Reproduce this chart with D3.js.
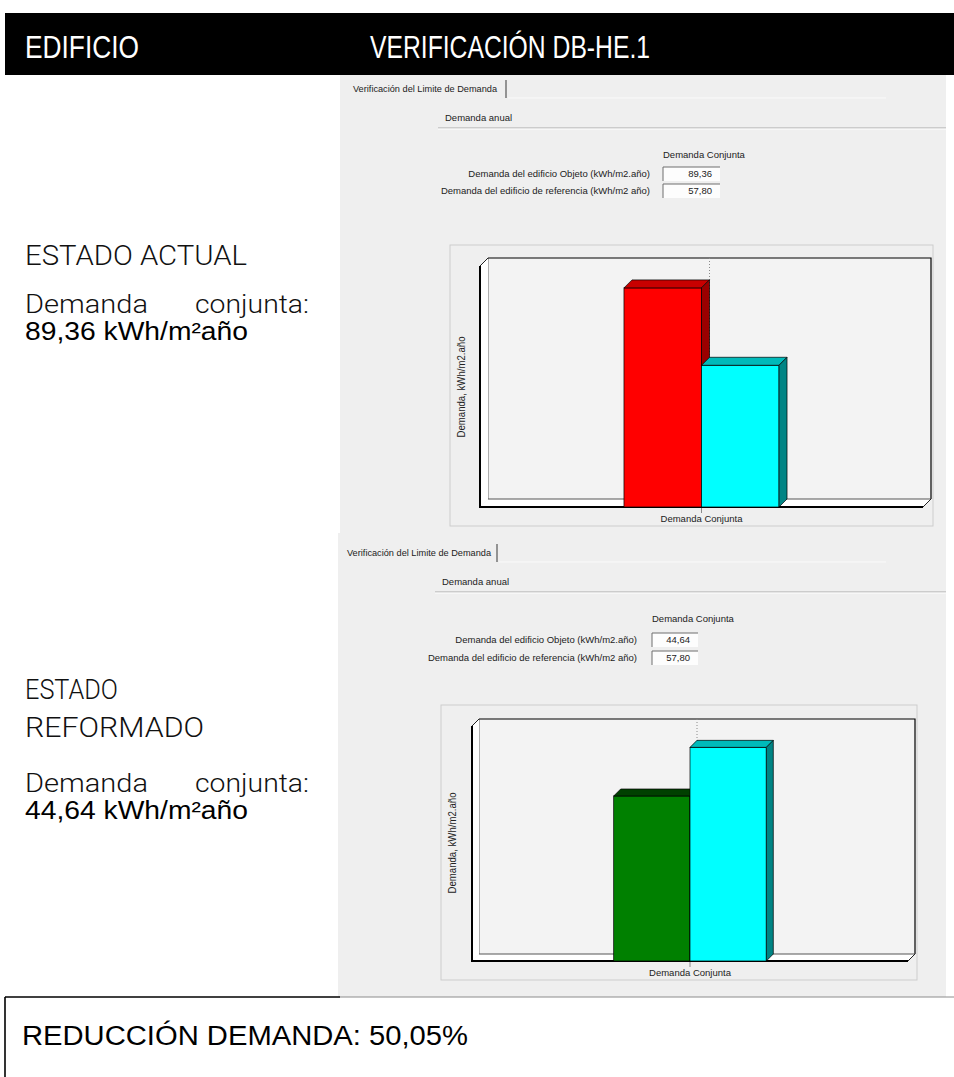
<!DOCTYPE html>
<html lang="es">
<head>
<meta charset="utf-8">
<title>Verificación DB-HE.1</title>
<script src="https://cdn.jsdelivr.net/npm/d3@7/dist/d3.min.js"></script>
<style>
  html, body { margin: 0; padding: 0; background: #ffffff; }
  svg { display: block; }
</style>
</head>
<body>
<script>
// ---- Data ----------------------------------------------------------------
const categories = ["Demanda Conjunta"];
const seriesLabels = [
  "Demanda del edificio Objeto (kWh/m2.año)",
  "Demanda del edificio de referencia (kWh/m2 año)"
];
const actualValues = [89.36, 57.80];     // estado actual: objeto, referencia
const reformedValues = [44.64, 57.80];   // estado reformado: objeto, referencia
const reductionPct = [50.05];            // reducción de demanda declarada
const headerLabels = ["EDIFICIO", "VERIFICACIÓN DB-HE.1"];
const stateTitles = [["ESTADO ACTUAL"], ["ESTADO", "REFORMADO"]];
const tabLabel = "Verificación del Limite de Demanda";
const groupLabel = "Demanda anual";
const yAxisTitle = "Demanda, kWh/m2.año";

// ---- Helpers -------------------------------------------------------------
const fmt = v => d3.format(".2f")(v).replace(".", ",");
const W = 954, H = 1077;
const svg = d3.select("body").append("svg").attr("width", W).attr("height", H);

const SANS = "'Liberation Sans', Arial, Helvetica, sans-serif";
const LIGHT = "Roboto, 'Liberation Sans', Arial, sans-serif";
const UI = "'Liberation Sans', Tahoma, Arial, sans-serif";

function fitText(sel, len) {
  return sel.attr("textLength", len).attr("lengthAdjust", "spacingAndGlyphs");
}

// ---- Header bar ----------------------------------------------------------
svg.append("rect").attr("x", 5).attr("y", 13).attr("width", W - 5).attr("height", 62).attr("fill", "#000");
fitText(svg.append("text").attr("x", 25).attr("y", 58).text(headerLabels[0])
  .attr("font-family", SANS).attr("font-size", 32).attr("fill", "#fff"), 114);
fitText(svg.append("text").attr("x", 370).attr("y", 58).text(headerLabels[1])
  .attr("font-family", SANS).attr("font-size", 32).attr("fill", "#fff"), 280);

// ---- Left column: state descriptions ------------------------------------
function stateBlock(lines, titleBaselines, titleWidths, demBaseline, valBaseline, value) {
  const g = svg.append("g");
  lines.forEach((t, i) => {
    fitText(g.append("text").attr("x", 25).attr("y", titleBaselines[i]).text(t)
      .attr("font-family", LIGHT).attr("font-weight", 300).attr("font-size", 27).attr("fill", "#111"), titleWidths[i]);
  });
  fitText(g.append("text").attr("x", 25).attr("y", demBaseline).text("Demanda")
    .attr("font-family", LIGHT).attr("font-weight", 300).attr("font-size", 26).attr("fill", "#111"), 123);
  fitText(g.append("text").attr("x", 195).attr("y", demBaseline).text("conjunta:")
    .attr("font-family", LIGHT).attr("font-weight", 300).attr("font-size", 26).attr("fill", "#111"), 114);
  fitText(g.append("text").attr("x", 25).attr("y", valBaseline)
    .attr("font-family", SANS).attr("font-size", 25).attr("fill", "#000")
    .text(fmt(value) + " kWh/m²año"), 223);
}
stateBlock(stateTitles[0], [265], [222], 313, 340, actualValues[0]);
stateBlock(stateTitles[1], [699, 737], [93, 179], 792, 819, reformedValues[0]);

// ---- Software panels with 3D bar chart ----------------------------------
function drawPanel(cfg, values, colors) {
  const g = svg.append("g");
  const L = cfg;

  // dialog background
  g.append("rect").attr("x", L.px).attr("y", L.py).attr("width", L.pw).attr("height", L.ph).attr("fill", "#efefef");

  // tab
  fitText(g.append("text").attr("x", L.tabX).attr("y", L.tabY).text(tabLabel)
    .attr("font-family", UI).attr("font-size", 9.5).attr("fill", "#222"), 144);
  g.append("line").attr("x1", L.tabSep).attr("x2", L.tabSep).attr("y1", L.tabY - 12).attr("y2", L.tabY + 6)
    .attr("stroke", "#555").attr("stroke-width", 1.2);
  g.append("line").attr("x1", L.tabSep + 2).attr("x2", L.px + L.pw - 60).attr("y1", L.tabY + 6).attr("y2", L.tabY + 6)
    .attr("stroke", "#fafafa").attr("stroke-width", 1);

  // group box title
  g.append("text").attr("x", L.grpX).attr("y", L.grpY).text(groupLabel)
    .attr("font-family", UI).attr("font-size", 9.5).attr("fill", "#222");
  g.append("line").attr("x1", L.grpX - 7).attr("x2", L.px + L.pw).attr("y1", L.grpY + 7).attr("y2", L.grpY + 7)
    .attr("stroke", "#a9a9a9").attr("stroke-width", 1);
  g.append("line").attr("x1", L.grpX - 7).attr("x2", L.px + L.pw).attr("y1", L.grpY + 8).attr("y2", L.grpY + 8)
    .attr("stroke", "#ffffff").attr("stroke-width", 1);

  // value table
  g.append("text").attr("x", L.boxX).attr("y", L.colHeadY).text(categories[0])
    .attr("font-family", UI).attr("font-size", 9.5).attr("fill", "#222");
  seriesLabels.forEach((s, i) => {
    const by = L.boxY[i];
    g.append("text").attr("x", L.lblRight).attr("y", by + 10).attr("text-anchor", "end").text(s)
      .attr("font-family", UI).attr("font-size", 9.5).attr("fill", "#222");
    g.append("rect").attr("x", L.boxX).attr("y", by).attr("width", L.boxW).attr("height", 14).attr("fill", "#fdfdfd");
    g.append("path").attr("d", `M${L.boxX},${by + 14}V${by}H${L.boxX + L.boxW}`)
      .attr("fill", "none").attr("stroke", "#6e6e6e").attr("stroke-width", 1);
    g.append("text").attr("x", L.boxX + L.boxW - 8).attr("y", by + 10).attr("text-anchor", "end")
      .text(fmt(values[i])).attr("font-family", UI).attr("font-size", 9.5).attr("fill", "#222");
  });

  // chart control border
  g.append("rect").attr("x", L.cx0).attr("y", L.cy0).attr("width", L.cx1 - L.cx0).attr("height", L.cy1 - L.cy0)
    .attr("fill", "none").attr("stroke", "#cdcdcd").attr("stroke-width", 1);

  // scales
  const d = L.depth;
  const ymax = d3.max(values) * 1.1;
  const y = d3.scaleLinear().domain([0, ymax]).range([L.bottom, L.top]);
  const x0 = d3.scaleBand().domain(categories).range([L.left, L.right]).paddingInner(0.65).paddingOuter(0.325);
  const x1 = d3.scaleBand().domain(seriesLabels).range([0, x0.bandwidth()]);
  const yb = y(0), yt = y(ymax);

  // back wall
  g.append("rect").attr("x", L.left + d).attr("y", yt - d).attr("width", L.right - L.left).attr("height", yb - yt)
    .attr("fill", "#f3f3f3");
  g.append("path").attr("d", `M${L.left + d},${yb - d}V${yt - d}`).attr("stroke", "#6a6a6a").attr("stroke-width", 1).attr("fill", "none");
  g.append("path").attr("d", `M${L.left + d},${yt - d}H${L.right + d}V${yb - d}`).attr("stroke", "#000").attr("stroke-width", 1.2).attr("fill", "none");

  // left wall and floor
  g.append("path").attr("d", `M${L.left},${yt}L${L.left + d},${yt - d}V${yb - d}L${L.left},${yb}Z`).attr("fill", "#ffffff");
  g.append("path").attr("d", `M${L.left},${yb}L${L.left + d},${yb - d}H${L.right + d}L${L.right},${yb}Z`).attr("fill", "#ffffff");
  g.append("path").attr("d", `M${L.left + d},${yb - d}H${L.right + d}`).attr("stroke", "#555").attr("stroke-width", 1).attr("fill", "none");
  g.append("path").attr("d", `M${L.left},${yt}L${L.left + d},${yt - d}M${L.right},${yb}L${L.right + d},${yb - d}`)
    .attr("stroke", "#222").attr("stroke-width", 1).attr("fill", "none");

  // category gridline on back wall and tick
  const cx = x0(categories[0]) + x0.bandwidth() / 2;
  g.append("line").attr("x1", cx + d).attr("x2", cx + d).attr("y1", yt - d).attr("y2", yb - d)
    .attr("stroke", "#8a8a8a").attr("stroke-width", 1).attr("stroke-dasharray", "1,2");
  g.append("line").attr("x1", cx).attr("x2", cx).attr("y1", yb).attr("y2", yb + 6)
    .attr("stroke", "#8a8a8a").attr("stroke-width", 1);

  // front axis edges
  g.append("path").attr("d", `M${L.left},${yt}V${yb}H${L.right}`).attr("stroke", "#000").attr("stroke-width", 2).attr("fill", "none");

  // 3D bars
  const bars = g.selectAll("g.bar").data(values.map((v, i) => ({ v, i, key: seriesLabels[i] }))).join("g").attr("class", "bar");
  bars.each(function (b) {
    const bg = d3.select(this);
    const bx = x0(categories[0]) + x1(b.key), bw = x1.bandwidth(), by = y(b.v);
    const c = colors[b.i];
    bg.append("rect").attr("x", bx).attr("y", by).attr("width", bw).attr("height", yb - by)
      .attr("fill", c.front).attr("stroke", "#000").attr("stroke-width", 0.7);
    bg.append("path").attr("d", `M${bx},${by}L${bx + d},${by - d}H${bx + bw + d}L${bx + bw},${by}Z`)
      .attr("fill", c.top).attr("stroke", "#000").attr("stroke-width", 0.7);
    bg.append("path").attr("d", `M${bx + bw},${by}L${bx + bw + d},${by - d}V${yb - d}L${bx + bw},${yb}Z`)
      .attr("fill", c.side).attr("stroke", "#000").attr("stroke-width", 0.7);
  });

  // axis titles
  g.append("text").attr("x", cx).attr("y", L.xLabelY).attr("text-anchor", "middle").text(categories[0])
    .attr("font-family", UI).attr("font-size", 9.5).attr("fill", "#222");
  fitText(g.append("text").attr("transform", `translate(${L.yTitleX},${L.yTitleY}) rotate(-90)`)
    .attr("text-anchor", "middle").text(yAxisTitle)
    .attr("font-family", UI).attr("font-size", 10).attr("fill", "#222"), 101);
}

const redSet = [
  { front: "#ff0000", top: "#c80000", side: "#9a0000" },
  { front: "#00ffff", top: "#00baba", side: "#008484" }
];
const greenSet = [
  { front: "#008000", top: "#004000", side: "#004400" },
  { front: "#00ffff", top: "#00baba", side: "#008484" }
];

drawPanel({
  px: 340, py: 75, pw: 606, ph: 458,
  tabX: 353, tabY: 92, tabSep: 506,
  grpX: 445, grpY: 121,
  colHeadY: 158, lblRight: 650, boxX: 663, boxW: 57, boxY: [167, 184],
  cx0: 450, cy0: 245, cx1: 933, cy1: 526,
  left: 480, right: 923, bottom: 507, top: 266, depth: 8,
  xLabelY: 522, yTitleX: 465, yTitleY: 387
}, actualValues, redSet);

drawPanel({
  px: 338, py: 533, pw: 608, ph: 464,
  tabX: 347, tabY: 556, tabSep: 497,
  grpX: 442, grpY: 585,
  colHeadY: 622, lblRight: 637, boxX: 652, boxW: 46, boxY: [633, 651],
  cx0: 441, cy0: 705, cx1: 917, cy1: 980,
  left: 472, right: 908, bottom: 961, top: 726, depth: 7,
  xLabelY: 976, yTitleX: 456, yTitleY: 843
}, reformedValues, greenSet);

// ---- Result box ----------------------------------------------------------
svg.append("line").attr("x1", 5).attr("x2", 340).attr("y1", 997).attr("y2", 997).attr("stroke", "#000").attr("stroke-width", 1.6);
svg.append("line").attr("x1", 340).attr("x2", W).attr("y1", 997).attr("y2", 997).attr("stroke", "#8c8c8c").attr("stroke-width", 1);
svg.append("line").attr("x1", 5).attr("x2", 5).attr("y1", 997).attr("y2", H).attr("stroke", "#000").attr("stroke-width", 1.6);
fitText(svg.append("text").attr("x", 22).attr("y", 1045)
  .attr("font-family", SANS).attr("font-size", 27).attr("fill", "#000")
  .text("REDUCCIÓN DEMANDA: " + fmt(reductionPct[0]) + "%"), 446);
</script>
</body>
</html>
